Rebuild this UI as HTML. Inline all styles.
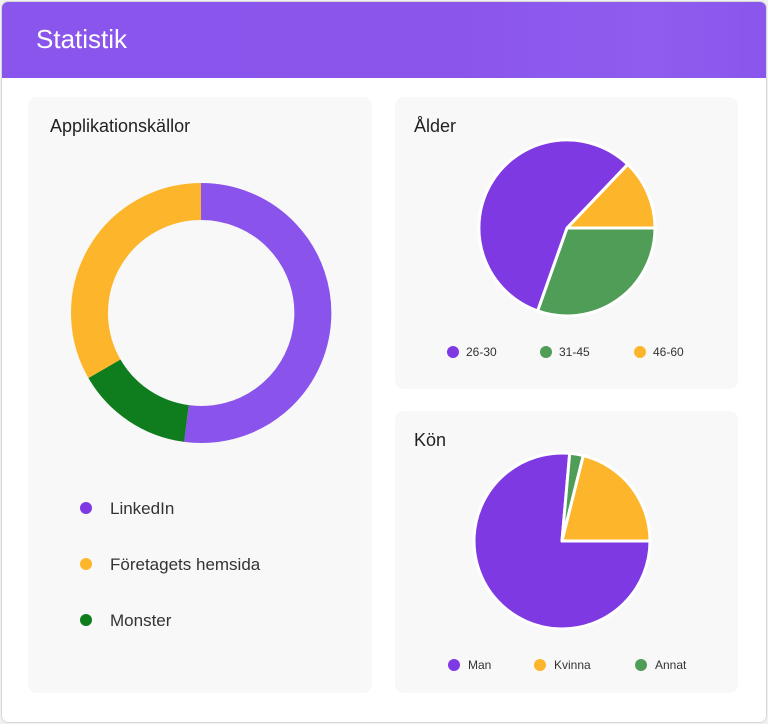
<!DOCTYPE html>
<html><head><meta charset="utf-8"><style>
body{margin:0;width:768px;height:724px;background:#f0f0f0;font-family:"Liberation Sans",sans-serif;overflow:hidden;position:relative}
.card{position:absolute;left:1px;top:1px;width:764px;height:720px;background:#fff;border:1px solid #d8d8d8;border-radius:7px;overflow:hidden}
.hdr{position:absolute;left:0;top:0;width:764px;height:76px;background:linear-gradient(90deg,#8a55ec,#8b55ec 60%,#8f5cef 85%,#8a55ec);}
.hdr span{position:absolute;left:34px;top:22px;color:#fff;font-size:26px}
.p{position:absolute;background:#f8f8f8;border-radius:9px}
.t{position:absolute;font-size:18px;color:#222}
svg{position:absolute;left:0;top:0}
</style></head><body>
<div class="card"><div class="hdr"><span>Statistik</span></div></div>
<div class="p" style="left:28px;top:97px;width:344px;height:596px"></div>
<div class="p" style="left:395px;top:97px;width:343px;height:292px"></div>
<div class="p" style="left:395px;top:411px;width:343px;height:282px"></div>
<div class="t" style="left:50px;top:116px">Applikationskällor</div>
<div class="t" style="left:414px;top:116px">Ålder</div>
<div class="t" style="left:414px;top:430px">Kön</div>
<svg width="768" height="724" font-family="Liberation Sans, sans-serif" fill="#333">
<g fill="none" stroke-width="37">
<path d="M201 201.5 A111.5 111.5 0 1 1 186.45 423.5" stroke="#8a54ec"/>
<path d="M186.45 423.5 A111.5 111.5 0 0 1 104.44 368.75" stroke="#0f7d1e"/>
<path d="M104.44 368.75 A111.5 111.5 0 0 1 201 201.5" stroke="#fdb62b"/>
</g>
<circle cx="86" cy="508" r="6" fill="#7f39e2"/><text x="110" y="514" font-size="17">LinkedIn</text>
<circle cx="86" cy="564" r="6" fill="#fdb62b"/><text x="110" y="570" font-size="17">Företagets hemsida</text>
<circle cx="86" cy="620" r="6" fill="#0f7d1e"/><text x="110" y="626" font-size="17">Monster</text>
<g stroke="#fff" stroke-width="3" stroke-linejoin="round">
<path d="M567 228 L627.7 164.3 A88 88 0 0 1 655 228Z" fill="#fdb62b"/>
<path d="M567 228 L655 228 A88 88 0 0 1 537.6 310.9Z" fill="#4f9d57"/>
<path d="M567 228 L537.6 310.9 A88 88 0 1 1 627.7 164.3Z" fill="#7f39e2"/>
<path d="M562 541 L650 541 A88 88 0 1 1 569.7 453.3Z" fill="#7f39e2"/>
<path d="M562 541 L569.7 453.3 A88 88 0 0 1 583.3 455.6Z" fill="#4f9d57"/>
<path d="M562 541 L583.3 455.6 A88 88 0 0 1 650 541Z" fill="#fdb62b"/>
</g>
<g font-size="12">
<circle cx="453" cy="352" r="6" fill="#7f39e2"/><text x="466" y="356">26-30</text>
<circle cx="546" cy="352" r="6" fill="#4f9d57"/><text x="559" y="356">31-45</text>
<circle cx="640" cy="352" r="6" fill="#fdb62b"/><text x="653" y="356">46-60</text>
<circle cx="454" cy="665" r="6" fill="#7f39e2"/><text x="468" y="669">Man</text>
<circle cx="540" cy="665" r="6" fill="#fdb62b"/><text x="554" y="669">Kvinna</text>
<circle cx="641" cy="665" r="6" fill="#4f9d57"/><text x="655" y="669">Annat</text>
</g>
</svg>
</body></html>
